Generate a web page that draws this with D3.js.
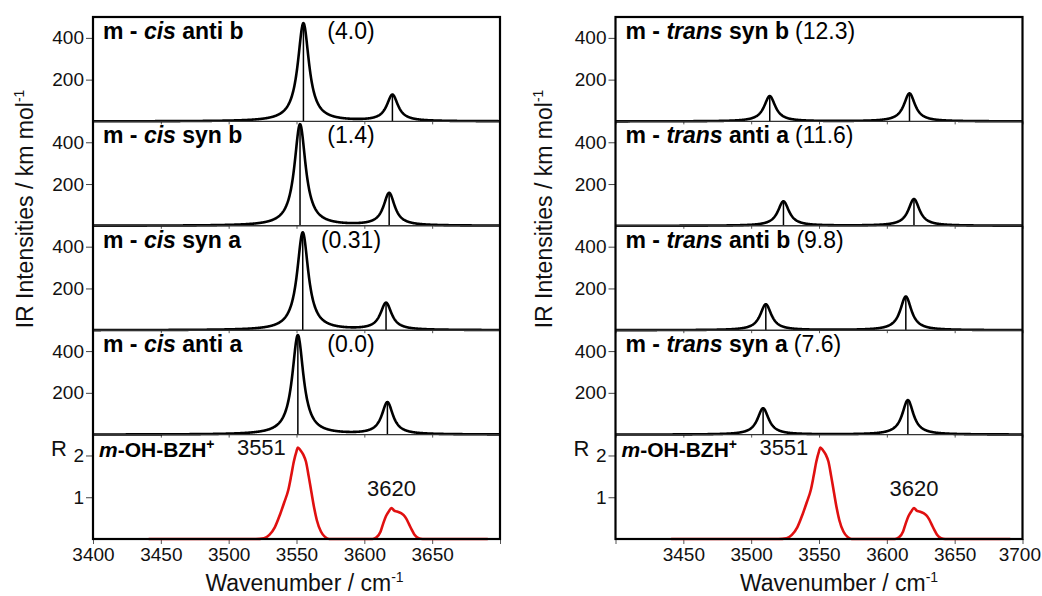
<!DOCTYPE html>
<html><head><meta charset="utf-8">
<script src="https://cdn.jsdelivr.net/npm/d3@7"></script>
<style>
body{margin:0;background:#fff}
svg{display:block;font-family:"Liberation Sans",Arial,sans-serif}
</style></head>
<body>
<svg id="chart" width="1042" height="596"></svg>
<script>
// ---------- data ----------
const xTicks = [3400, 3450, 3500, 3550, 3600, 3650, 3700];
const yTicksTheory = [200, 400];
const yTicksExp = [1, 2];

const leftIsomer = "cis";
const leftConformers = ["anti b", "syn b", "syn a", "anti a"];
const leftEnergies = ["(4.0)", "(1.4)", "(0.31)", "(0.0)"];
const leftStickFreqs = [[3555.1, 3620.7], [3552.6, 3618.3], [3554.6, 3616.0], [3551.0, 3617.0]];
const leftStickInts  = [[470, 126], [486, 155], [468, 129], [476, 153]];

const rightIsomer = "trans";
const rightConformers = ["syn b", "anti a", "anti b", "syn a"];
const rightEnergies = ["(12.3)", "(11.6)", "(9.8)", "(7.6)"];
const rightStickFreqs = [[3513.7, 3616.7], [3523.8, 3620.0], [3510.8, 3614.0], [3508.8, 3615.5]];
const rightStickInts  = [[121, 134], [117, 128], [124, 161], [126, 165]];

// experimental IR-PD spectrum (wavenumber, R)
const expWavenumber = [3441, 3520, 3526, 3530, 3534, 3538, 3541, 3544, 3546, 3548, 3550, 3551, 3553, 3555, 3557, 3559, 3561, 3563, 3565, 3568, 3571, 3574,
  3606, 3609, 3612, 3614, 3616, 3618, 3620, 3622, 3624, 3627, 3629, 3631, 3633, 3635, 3637, 3640, 3643, 3691];
const expR = [0, 0, 0.02, 0.1, 0.28, 0.6, 0.88, 1.18, 1.5, 1.85, 2.1, 2.19, 2.12, 2.02, 1.85, 1.5, 1.12, 0.75, 0.45, 0.18, 0.05, 0,
  0, 0.04, 0.18, 0.38, 0.55, 0.66, 0.74, 0.68, 0.66, 0.62, 0.57, 0.48, 0.35, 0.22, 0.1, 0.02, 0, 0];
const expPeakLabels = [3551, 3620];
const expPeakLabelR = [2.0, 1.02];

const fwhm = 10; // Lorentzian broadening of the computed sticks (cm-1)

// ---------- layout ----------
const svg = d3.select("#chart");
const plotTop = 17, plotBottom = 539, nRows = 5;
const rowH = (plotBottom - plotTop) / nRows;
const panels = [
  {x0: 93, x1: 500, isomer: leftIsomer, conf: leftConformers, en: leftEnergies, f: leftStickFreqs, I: leftStickInts, side: "left", titleX: 33},
  {x0: 615.5, x1: 1022.5, isomer: rightIsomer, conf: rightConformers, en: rightEnergies, f: rightStickFreqs, I: rightStickInts, side: "right", titleX: 552}
];

function lorentz(x, freqs, ints) {
  const g = fwhm / 2;
  let s = 0;
  for (let i = 0; i < freqs.length; i++) s += ints[i] * g * g / ((x - freqs[i]) ** 2 + g * g);
  return s;
}

panels.forEach(p => {
  const x = d3.scaleLinear().domain([3400, 3700]).range([p.x0, p.x1]);
  const g = svg.append("g");
  const sampleX = d3.range(3400, 3700.01, 0.25);

  for (let r = 0; r < nRows; r++) {
    const y0 = plotTop + r * rowH, y1 = y0 + rowH;
    const isExp = r === nRows - 1;
    const y = isExp
      ? d3.scaleLinear().domain([0, 2.5]).range([y1, y0])
      : d3.scaleLinear().domain([0, 500]).range([y1, y0]);
    const row = g.append("g");

    // y axis
    const ya = d3.axisLeft(y).tickValues(isExp ? yTicksExp : yTicksTheory).tickSize(7).tickPadding(2).tickFormat(d3.format("d"));
    const yg = row.append("g").attr("transform", `translate(${p.x0},0)`).call(ya);
    yg.select(".domain").remove();
    yg.selectAll("line").attr("stroke", "#444").attr("stroke-width", 1);
    yg.selectAll("text").attr("font-size", 19).attr("fill", "#111").attr("font-family", "Liberation Sans, Arial, sans-serif");

    // x axis ticks on row bottom
    const xa = d3.axisBottom(x).tickValues(xTicks).tickSize(isExp ? 5 : 3).tickPadding(4).tickFormat(d3.format("d"));
    const xg = row.append("g").attr("transform", `translate(0,${y1})`).call(xa);
    xg.select(".domain").remove();
    xg.selectAll("line").attr("stroke", "#555");
    if (!isExp) xg.selectAll("text").remove();
    else {
      xg.selectAll("text").attr("font-size", 19).attr("fill", "#111").attr("font-family", "Liberation Sans, Arial, sans-serif")
        .filter(d => (p.side === "left" && d === 3700) || (p.side === "right" && d === 3400)).remove();
      if (p.side === "right") {
        xg.selectAll("text").filter(d => d === 3700).attr("text-anchor", "end").attr("x", 18);
      }
    }

    if (!isExp) {
      const f = p.f[r], I = p.I[r];
      const line = d3.line().x(d => x(d)).y(d => y(lorentz(d, f, I)));
      row.append("path").attr("d", line(sampleX)).attr("fill", "none").attr("stroke", "#000").attr("stroke-width", 2.6).attr("stroke-linejoin", "round");
      row.selectAll(".stick").data(f.map((v, i) => [v, I[i]])).join("line")
        .attr("x1", d => x(d[0])).attr("x2", d => x(d[0]))
        .attr("y1", y(0)).attr("y2", d => y(d[1]))
        .attr("stroke", "#000").attr("stroke-width", 1.5);
      // label
      const t = row.append("text").attr("x", p.x0 + 10).attr("y", y0 + 22)
        .attr("font-size", 23).attr("font-weight", "bold").attr("fill", "#000");
      t.append("tspan").text("m - ");
      t.append("tspan").attr("font-style", "italic").text(p.isomer);
      t.append("tspan").text(" " + p.conf[r]);
      if (p.side === "right") {
        t.append("tspan").attr("font-weight", "normal").attr("dx", 6).text(p.en[r]);
      } else {
        row.append("text").attr("x", 351).attr("y", y0 + 22).attr("text-anchor", "middle")
          .attr("font-size", 23).attr("fill", "#000").text(p.en[r]);
      }
    } else {
      const pts = expWavenumber.map((w, i) => [w, expR[i]]);
      const line = d3.line().x(d => x(d[0])).y(d => y(d[1])).curve(d3.curveMonotoneX);
      row.append("path").attr("d", line(pts)).attr("fill", "none").attr("stroke", "#e01010").attr("stroke-width", 2.6).attr("stroke-linejoin", "round");
      const t = row.append("text").attr("x", p.x0 + 6).attr("y", y0 + 22)
        .attr("font-size", 21).attr("font-weight", "bold").attr("fill", "#000");
      t.append("tspan").attr("font-style", "italic").text("m");
      t.append("tspan").text("-OH-BZH");
      t.append("tspan").attr("font-size", 14).attr("dy", -8).text("+");
      row.append("text").attr("x", p.x0 - 42).attr("y", y(2) + 1).attr("font-size", 22).attr("fill", "#111").text("R");
      expPeakLabels.forEach((v, i) => {
        row.append("text").attr("x", x(v) + (i === 0 ? -12 : 0)).attr("y", y(expPeakLabelR[i]))
          .attr("text-anchor", i === 0 ? "end" : "middle").attr("font-size", 22).attr("fill", "#111").text(v);
      });
    }

    if (r > 0) {
      g.append("line").attr("x1", p.x0).attr("x2", p.x1).attr("y1", y0).attr("y2", y0).attr("stroke", "#333").attr("stroke-width", 1.4);
    }
  }
  // outer frame
  g.append("rect").attr("x", p.x0).attr("y", plotTop).attr("width", p.x1 - p.x0).attr("height", plotBottom - plotTop)
    .attr("fill", "none").attr("stroke", "#000").attr("stroke-width", 2.2);

  // axis titles
  const yt = g.append("text").attr("transform", `translate(${p.titleX},209) rotate(-90)`)
    .attr("text-anchor", "middle").attr("font-size", 23).attr("fill", "#111");
  yt.append("tspan").text("IR Intensities / km mol");
  yt.append("tspan").attr("font-size", 14).attr("dy", -9).text("-1");

  const xt = g.append("text").attr("x", (p.x0 + p.x1) / 2 + (p.side === "left" ? 8 : 20)).attr("y", 591)
    .attr("text-anchor", "middle").attr("font-size", 23).attr("fill", "#111");
  xt.append("tspan").text("Wavenumber / cm");
  xt.append("tspan").attr("font-size", 14).attr("dy", -9).text("-1");
});
</script>
</body></html>
